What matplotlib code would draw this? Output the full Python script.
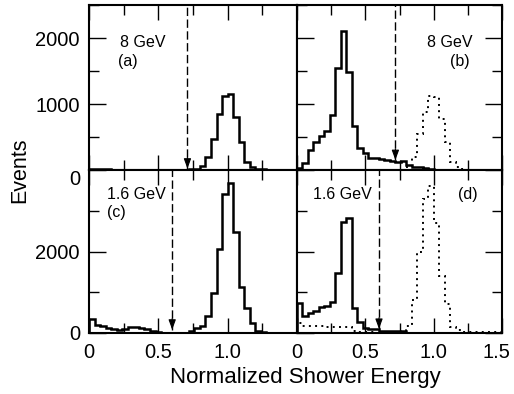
import matplotlib
matplotlib.use("Agg")
import numpy as np
import matplotlib.pyplot as plt
import matplotlib.transforms as mtransforms
from matplotlib.ticker import MultipleLocator, FixedLocator

plt.rcParams['font.family'] = ['Liberation Sans', 'DejaVu Sans']

# histogram contents, bins of 0.04 in normalized shower energy starting at 0
bin_width = 0.04

# (a) 8 GeV, solid
counts_a = [10, 15, 15, 10, 5, 5, 0, 0, 0, 0, 0, 0, 0, 0, 0, 0, 0, 5, 10, 20,
            60, 200, 465, 850, 1120, 1145, 800, 430, 125, 40, 15, 8, 5, 0, 0, 0, 0, 0]
# (b) 8 GeV, solid and dotted
counts_b = [30, 100, 300, 430, 515, 590, 840, 1550, 2100, 1490, 670, 340, 260, 180,
            175, 165, 150, 140, 115, 130, 80, 50, 40, 30, 15, 5, 0, 0, 0, 0, 0, 0, 0, 0, 0, 0, 0, 0]
counts_b_dot = [0, 0, 0, 0, 0, 0, 0, 0, 0, 0, 0, 0, 0, 0, 0, 0, 0, 0, 0, 5,
                40, 200, 550, 880, 1120, 1100, 780, 430, 120, 50, 15, 5, 0, 0, 0, 0, 0, 0]
# (c) 1.6 GeV, solid
counts_c = [350, 200, 160, 130, 110, 80, 110, 140, 150, 130, 100, 50, 15, 10, 10, 10, 10, 10, 50, 115,
            180, 425, 990, 2050, 3410, 3690, 2490, 1140, 605, 240, 50, 20, 10, 5, 0, 0, 0, 0]
# (d) 1.6 GeV, solid and dotted
counts_d = [740, 415, 490, 545, 640, 670, 770, 1470, 2730, 2830, 620, 280, 130, 110, 100, 55, 55, 55, 55, 55,
            0, 0, 0, 0, 0, 0, 0, 0, 0, 0, 0, 0, 0, 0, 0, 0, 0, 0]
counts_d_dot = [240, 170, 165, 160, 160, 155, 150, 150, 150, 150, 60, 30, 20, 15, 10, 10, 10, 10, 20, 60,
                180, 800, 2000, 3300, 3600, 2700, 1400, 700, 150, 70, 20, 20, 20, 20, 20, 20, 20, 20]

cuts = [0.71, 0.72, 0.6, 0.6]
arrow_tips = [20, 150, 80, 100]
energy_labels = ['8 GeV', '8 GeV', '1.6 GeV', '1.6 GeV']
panel_labels = ['(a)', '(b)', '(c)', '(d)']

W, H = 514, 394
fig = plt.figure(figsize=(W / 100, H / 100), dpi=100)


def box(x0, x1, y0, y1):
    return [x0 / W, 1 - y1 / H, (x1 - x0) / W, (y1 - y0) / H]


ax_a = fig.add_axes(box(89, 297, 5, 170))
ax_b = fig.add_axes(box(297, 502, 5, 170))
ax_c = fig.add_axes(box(89, 297, 170, 333))
ax_d = fig.add_axes(box(297, 502, 170, 333))
axes = [ax_a, ax_b, ax_c, ax_d]

solid = [counts_a, counts_b, counts_c, counts_d]
dotted = [None, counts_b_dot, None, counts_d_dot]

for i, ax in enumerate(axes):
    top = i < 2
    right = i % 2 == 1
    ymax = 2500 if top else 4000
    edges = np.arange(len(solid[i]) + 1) * bin_width
    ax.stairs(solid[i], edges, color='k', lw=1.8)
    if dotted[i] is not None:
        ax.stairs(dotted[i], edges, color='k', lw=1.4, linestyle=(0, (1, 2.2)))

    # cut line with arrow
    ax.plot([cuts[i], cuts[i]], [arrow_tips[i], ymax], color='k', lw=1.0,
            linestyle=(0, (6, 2.5)))
    ax.annotate('', xy=(cuts[i], arrow_tips[i]), xytext=(0, 8), textcoords='offset points',
                arrowprops=dict(arrowstyle='-|>,head_length=0.6,head_width=0.22',
                                color='k', lw=0.8, shrinkA=0, shrinkB=0))

    ax.set_xlim(0, 1.5)
    ax.set_ylim(0, ymax)
    for s in ax.spines.values():
        s.set_linewidth(1.5)

    ax.xaxis.set_major_locator(FixedLocator([0, 0.5, 1.0, 1.5]))
    ax.xaxis.set_minor_locator(FixedLocator([0.25, 0.75, 1.25]))
    if top:
        ax.yaxis.set_major_locator(MultipleLocator(1000))
        ax.yaxis.set_minor_locator(MultipleLocator(500))
    else:
        ax.yaxis.set_major_locator(MultipleLocator(2000))
        ax.yaxis.set_minor_locator(MultipleLocator(1000))

    ax.tick_params(axis='both', which='both', direction='in', top=True,
                   right=right, left=True, labelsize=14.5, width=1.0)
    ax.tick_params(axis='x', which='major', length=11, pad=7)
    ax.tick_params(axis='x', which='minor', length=7)
    ax.tick_params(axis='y', which='major', length=12, pad=6.5)
    ax.tick_params(axis='y', which='minor', length=7)

    if top:
        ax.set_xticklabels([])
    elif right:
        labs = ax.set_xticklabels(['0', '0.5', '1.0', '1.5'])
        shift = mtransforms.ScaledTranslation(-6 / 100, 0, fig.dpi_scale_trans)
        labs[-1].set_transform(labs[-1].get_transform() + shift)
    else:
        ax.set_xticklabels(['0', '0.5', '1.0', ''])

    if right:
        ax.set_yticklabels([])
    elif top:
        ax.set_yticks([0, 1000, 2000])
        labs = ax.set_yticklabels(['0', '1000', '2000'])
        labs[0].set_va('top')
    else:
        ax.set_yticks([0, 2000, 4000])
        ax.set_yticklabels(['0', '2000', ''])

ax_a.text(0.149, 0.77, energy_labels[0], transform=ax_a.transAxes, fontsize=11.5, va='center', ha='left')
ax_a.text(0.139, 0.655, panel_labels[0], transform=ax_a.transAxes, fontsize=11.5, va='center', ha='left')
ax_b.text(0.854, 0.77, energy_labels[1], transform=ax_b.transAxes, fontsize=11.5, va='center', ha='right')
ax_b.text(0.844, 0.655, panel_labels[1], transform=ax_b.transAxes, fontsize=11.5, va='center', ha='right')
ax_c.text(0.087, 0.847, energy_labels[2], transform=ax_c.transAxes, fontsize=11.5, va='center', ha='left')
ax_c.text(0.087, 0.742, panel_labels[2], transform=ax_c.transAxes, fontsize=11.5, va='center', ha='left')
ax_d.text(0.078, 0.847, energy_labels[3], transform=ax_d.transAxes, fontsize=11.5, va='center', ha='left')
ax_d.text(0.883, 0.847, panel_labels[3], transform=ax_d.transAxes, fontsize=11.5, va='center', ha='right')

fig.text(20 / W, 1 - 170 / H, 'Events', rotation=90, fontsize=15.5, ha='center', va='center')
fig.text(305 / W, 1 - 378 / H, 'Normalized Shower Energy', fontsize=16, ha='center', va='center')

fig.savefig('out.png', dpi=100)
